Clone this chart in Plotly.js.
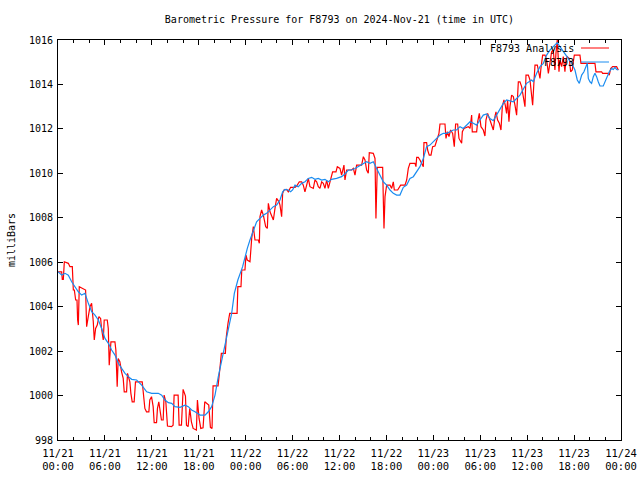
<!DOCTYPE html>
<html>
<head>
<meta charset="utf-8">
<script src="https://cdn.plot.ly/plotly-3.0.1.min.js"></script>
<style>html,body{margin:0;padding:0;background:#fff;}#chart{width:640px;height:480px;}</style>
</head>
<body>
<div id="chart"></div>
<script>
// Hours since 2024-11-21 00:00 UTC
var redName = "F8793 Analysis";
var blueName = "F8793";
var titleText = "Barometric Pressure for F8793 on 2024-Nov-21 (time in UTC)";
var yTitle = "milliBars";
var tickHours = [0, 6, 12, 18, 24, 30, 36, 42, 48, 54, 60, 66, 72];
var tickLabels = ["11/21<br>00:00","11/21<br>06:00","11/21<br>12:00","11/21<br>18:00",
  "11/22<br>00:00","11/22<br>06:00","11/22<br>12:00","11/22<br>18:00",
  "11/23<br>00:00","11/23<br>06:00","11/23<br>12:00","11/23<br>18:00","11/24<br>00:00"];

var redHours = [
 0,0.47,0.55,0.68,0.81,1.32,1.53,1.83,1.96,2.09,
 2.26,2.43,2.51,2.6,2.72,3.53,3.66,3.74,3.87,4.09,
 4.3,4.51,4.64,4.81,5.02,5.23,5.45,5.57,5.79,5.91,
 6.3,6.43,6.55,6.77,7.28,7.4,7.57,7.7,7.91,8.13,
 8.34,8.47,8.77,8.89,9.19,9.32,9.49,9.74,9.91,10.77,
 10.89,11.11,11.32,11.62,11.74,11.96,12.17,12.3,12.6,12.72,
 12.89,13.06,13.23,13.45,13.57,13.79,14.0,14.51,14.72,14.85,
 15.36,15.49,15.79,16.0,16.3,16.43,16.64,16.85,17.06,17.28,
 17.7,17.83,18.04,18.26,18.55,18.77,19.28,19.49,19.7,19.83,
 20.47,20.77,20.89,21.4,21.53,21.74,21.96,22.51,
 22.9,23.0,23.4,23.5,
 23.91,24.04,24.2,24.55,24.77,24.98,25.19,25.62,25.75,25.83,
 26.04,26.26,26.56,26.77,26.9,27.11,27.32,27.54,27.75,27.96,
 28.26,28.39,28.6,28.73,28.9,29.24,29.45,29.75,30.31,30.52,
 30.86,31.16,31.37,31.58,31.8,32.01,32.22,32.65,32.86,33.08,
 33.29,33.5,33.72,33.93,34.14,34.36,34.57,34.78,35.12,35.55,
 35.72,36.06,36.27,36.57,36.7,36.91,37.55,37.77,37.98,38.19,
 38.53,
 38.83,39.05,39.26,39.47,39.68,39.81,40.32,40.54,40.66,40.83,
 41.52,41.6,41.69,41.82,42.03,42.46,42.67,42.88,43.01,43.44,
 43.65,43.82,44.37,44.59,44.8,45.01,45.65,45.78,45.87,46.08,
 46.29,46.5,46.72,46.8,47.14,47.27,47.48,47.7,47.91,48.21,
 48.51,48.72,48.85,49.49,49.62,49.79,50.0,50.21,50.47,50.68,
 50.85,51.11,51.28,51.5,51.62,51.71,51.92,52.47,52.69,52.9,
 52.98,53.54,53.67,53.88,54.09,54.39,54.6,54.73,54.94,55.24,
 55.46,55.67,55.88,56.01,56.22,56.44,56.65,56.82,57.03,57.2,
 57.37,57.5,57.67,
 57.8,58.01,58.23,58.44,58.65,58.87,59.08,59.29,59.51,59.72,
 59.85,60.15,60.36,60.57,60.7,60.87,61.0,61.3,61.47,61.64,
 61.76,61.98,62.28,62.49,62.71,62.92,63.13,63.34,63.55,63.68,
 63.85,64.07,64.19,64.41,64.62,64.83,64.96,65.13,65.39,65.56,
 65.77,65.9,66.03,66.75,66.88,68.67,68.8,69.52,69.65,70.38,
 70.5,70.68,70.93,71.44,71.53,71.66
];
var redPressure = [
 1005.57,1005.57,1005.23,1005.23,1006.02,1005.95,1005.8,1005.8,1004.75,1004.75,
 1004.3,1004.3,1003.4,1003.17,1004.9,1004.75,1003.1,1003.4,1003.55,1004.0,
 1004.15,1003.33,1002.5,1003.02,1003.17,1003.55,1003.47,1003.02,1002.5,1003.4,
 1003.4,1003.02,1001.37,1002.42,1002.42,1002.05,1000.4,1001.67,1001.52,1001.07,
 1000.77,1000.17,1000.17,1001.0,1000.62,1000.1,999.72,999.72,1000.62,1000.62,
 1000.1,999.42,999.27,999.27,999.8,999.95,999.5,998.78,998.78,999.42,
 999.72,999.2,998.9,998.9,1000.02,999.72,998.63,998.6,998.67,1000.02,
 1000.02,998.67,998.67,1000.28,999.98,998.67,998.6,999.42,998.82,998.52,
 998.45,999.8,998.97,998.52,998.55,999.72,999.57,998.57,998.52,1000.44,
 1000.44,1001.45,1001.9,1001.9,1002.65,1003.25,1003.7,1003.7,
 1003.7,1004.9,1004.9,1005.65,
 1005.65,1006.32,1006.1,1006.02,1007.07,1007.6,1007.0,1007.0,1006.85,1008.05,
 1008.35,1008.12,1007.6,1007.52,1008.65,1008.27,1008.12,1007.9,1008.42,1008.87,
 1008.72,1008.57,1008.05,1009.1,1009.25,1009.28,1009.17,1009.37,1009.37,1009.43,
 1009.62,1009.62,1009.47,1009.17,1009.47,1009.77,1009.4,1009.32,1009.7,1009.62,
 1009.4,1009.32,1009.62,1009.55,1009.32,1009.7,1009.32,1009.62,1010.07,1010.07,
 1010.3,1010.22,1009.92,1010.37,1009.7,1010.15,1010.15,1010.22,1009.92,1010.37,
 1010.37,
 1010.37,1010.75,1010.6,1010.15,1010.0,1010.93,1010.9,1010.67,1007.97,1010.27,
 1010.27,1008.87,1007.52,1008.95,1009.47,1009.47,1009.32,1009.62,1009.25,1009.25,
 1009.4,1009.47,1009.47,1009.7,1010.22,1010.45,1010.45,1010.3,1010.72,1010.72,
 1010.6,1010.45,1010.3,1011.38,1011.38,1011.05,1010.82,1010.82,1011.2,1011.23,
 1011.57,1011.8,1012.22,1012.22,1011.57,1011.87,1011.65,1011.95,1011.8,1011.2,
 1012.22,1012.22,1011.57,1011.42,1011.35,1011.87,1012.02,1012.1,1012.02,1012.62,
 1011.87,1011.87,1012.32,1012.7,1012.1,1011.95,1011.68,1012.4,1012.7,1012.4,
 1012.17,1011.95,1012.55,1012.77,1012.4,1012.25,1011.95,1013.0,1013.3,1013.07,
 1012.7,1013.3,1012.32,
 1013.0,1013.52,1013.45,1013.07,1012.62,1014.12,1014.12,1013.9,1013.45,1013.0,
 1014.42,1014.42,1014.2,1013.45,1013.07,1014.12,1014.87,1014.87,1014.5,1014.27,
 1014.72,1015.32,1015.32,1015.1,1014.5,1015.02,1015.47,1015.55,1014.65,1015.4,
 1016.0,1014.57,1015.1,1014.8,1015.25,1014.57,1015.1,1015.25,1015.17,1014.57,
 1014.65,1015.02,1015.32,1015.32,1014.95,1014.95,1014.57,1014.57,1014.5,1014.5,
 1014.42,1014.72,1014.8,1014.8,1014.72,1014.65
];

var blueHours = [
 0,0.47,0.9,1.32,1.75,2.17,2.6,3.03,3.45,3.88,
 4.31,4.73,5.16,5.58,6.01,6.44,6.86,7.29,7.72,8.14,
 8.57,8.99,9.42,10.06,10.7,11.34,11.98,12.83,13.26,13.68,
 14.11,14.54,14.96,15.6,16.24,16.67,17.09,17.52,18.16,18.8,
 19.22,19.65,20.08,20.5,20.93,21.36,21.78,22.21,22.55,23.0,
 23.61,23.91,24.21,24.55,24.98,25.4,25.83,26.26,26.68,27.11,
 27.54,27.96,28.39,28.73,29.03,29.45,29.75,30.0,30.31,30.73,
 31.16,31.59,32.01,32.44,32.86,33.29,33.72,34.14,34.57,34.99,
 35.63,36.27,36.7,37.13,37.55,37.98,38.41,
 38.62,39.05,39.47,39.9,40.32,40.75,41.18,41.6,42.03,42.46,
 42.88,43.31,43.73,44.16,44.59,45.01,45.44,45.87,46.29,46.72,
 47.14,47.57,47.99,48.42,48.85,49.28,49.7,50.13,50.55,50.98,
 51.41,51.83,52.26,52.69,53.11,53.54,53.96,54.39,54.82,55.24,
 55.67,56.09,56.52,56.95,57.37,
 58.23,59.08,59.93,60.57,60.79,61.21,61.64,62.07,62.49,62.92,
 63.34,63.85,64.19,64.62,64.96,65.26,65.69,66.11,66.41,66.67,
 66.97,67.26,67.52,67.69,67.82,68.03,68.24,68.46,68.67,68.88,
 69.09,69.31,69.73,69.95,70.16,70.5,70.8,71.01,71.23,71.44,
 71.66
];
var bluePressure = [
 1005.57,1005.42,1005.5,1005.42,1005.12,1004.9,1004.67,1004.52,1004.6,1004.15,
 1003.77,1003.62,1003.4,1003.02,1002.57,1002.35,1002.05,1001.82,1001.45,1001.22,
 1001.0,1000.85,1000.73,1000.7,1000.47,1000.17,1000.1,1000.1,1000.02,999.8,
 999.68,999.65,999.5,999.47,999.57,999.5,999.35,999.27,999.12,999.12,
 999.27,999.5,1000.02,1000.85,1001.6,1002.27,1003.1,1003.7,1004.6,1005.2,
 1005.8,1006.25,1006.62,1007.0,1007.45,1007.82,1007.97,1008.12,1008.2,1008.35,
 1008.5,1008.57,1008.8,1009.17,1009.28,1009.25,1009.17,1009.25,1009.47,1009.4,
 1009.55,1009.62,1009.77,1009.82,1009.73,1009.77,1009.7,1009.73,1009.62,1009.73,
 1009.77,1009.85,1009.97,1010.15,1010.15,1010.22,1010.3,
 1010.37,1010.45,1010.52,1010.45,1010.52,1010.22,1009.92,1009.62,1009.47,1009.25,
 1009.1,1009.02,1009.02,1009.37,1009.47,1009.77,1009.85,1010.07,1010.3,1010.67,
 1011.2,1011.27,1011.42,1011.57,1011.72,1011.8,1011.8,1011.87,1011.95,1011.95,
 1012.1,1012.02,1012.17,1012.32,1012.25,1012.17,1012.4,1012.62,1012.67,1012.47,
 1012.37,1012.62,1012.92,1013.15,1013.3,
 1013.22,1013.52,1014.05,1014.2,1014.12,1014.5,1014.8,1014.95,1015.32,1015.55,
 1015.7,1015.88,1015.7,1015.47,1015.32,1015.17,1014.95,1014.65,1014.2,1014.05,
 1014.42,1014.57,1014.8,1014.95,1014.27,1014.12,1014.05,1014.35,1014.5,1014.35,
 1014.12,1013.93,1013.93,1014.12,1014.35,1014.57,1014.72,1014.67,1014.77,1014.67,
 1014.65
];

var redColor = "#ff0000";
var blueColor = "#1a8cf0";
var fontFam = "DejaVu Sans Mono, monospace";

var traces = [
  {x: redHours, y: redPressure, type: "scatter", mode: "lines", name: redName,
   line: {color: redColor, width: 1.2}, showlegend: false},
  {x: blueHours, y: bluePressure, type: "scatter", mode: "lines", name: blueName,
   line: {color: blueColor, width: 1.2}, showlegend: false}
];

var pxX = function(p){ return (p - 58) / 563; };
var pxY = function(p){ return (440 - p) / 400; };

var layout = {
  width: 640, height: 480, autosize: false,
  margin: {l: 58, r: 19, t: 40, b: 40, pad: 0},
  paper_bgcolor: "#ffffff", plot_bgcolor: "#ffffff",
  font: {family: fontFam, size: 10, color: "#000"},
  title: {text: titleText, x: 0.5304, xanchor: "center", y: 0.96, yanchor: "middle",
          font: {family: fontFam, size: 10, color: "#000"}},
  xaxis: {
    range: [0, 72], tickmode: "array", tickvals: tickHours, ticktext: tickLabels,
    ticks: "inside", ticklen: 5, tickcolor: "#000", tickwidth: 1,
    showline: true, linecolor: "#000", linewidth: 1, mirror: "allticks",
    showgrid: false, zeroline: false, ticklabelstandoff: 3,
    minor: {tickmode: "linear", tick0: 0, dtick: 2, ticks: "inside", ticklen: 3, tickcolor: "#000", showgrid: false},
    tickfont: {family: fontFam, size: 10.5, color: "#000"}, fixedrange: true
  },
  yaxis: {
    range: [998, 1016], tickmode: "linear", tick0: 998, dtick: 2,
    ticks: "inside", ticklen: 5, tickcolor: "#000", tickwidth: 1,
    showline: true, linecolor: "#000", linewidth: 1, mirror: "allticks",
    showgrid: false, zeroline: false, ticklabelstandoff: 2,
    title: {text: yTitle, font: {family: fontFam, size: 10, color: "#000"}, standoff: 11},
    tickfont: {family: fontFam, size: 10, color: "#000"}, fixedrange: true
  },
  showlegend: false,
  annotations: [
    {xref: "paper", yref: "paper", x: pxX(576), y: pxY(48), xanchor: "right", yanchor: "middle",
     text: redName, showarrow: false, font: {family: fontFam, size: 10, color: "#000"}},
    {xref: "paper", yref: "paper", x: pxX(576), y: pxY(62), xanchor: "right", yanchor: "middle",
     text: blueName, showarrow: false, font: {family: fontFam, size: 10, color: "#000"}}
  ],
  shapes: [
    {type: "line", xref: "paper", yref: "paper", x0: pxX(581), x1: pxX(609), y0: pxY(48), y1: pxY(48),
     line: {color: redColor, width: 1}},
    {type: "line", xref: "paper", yref: "paper", x0: pxX(581), x1: pxX(609), y0: pxY(62), y1: pxY(62),
     line: {color: blueColor, width: 1}}
  ]
};

Plotly.newPlot("chart", traces, layout, {staticPlot: true, displayModeBar: false});
</script>
</body>
</html>
